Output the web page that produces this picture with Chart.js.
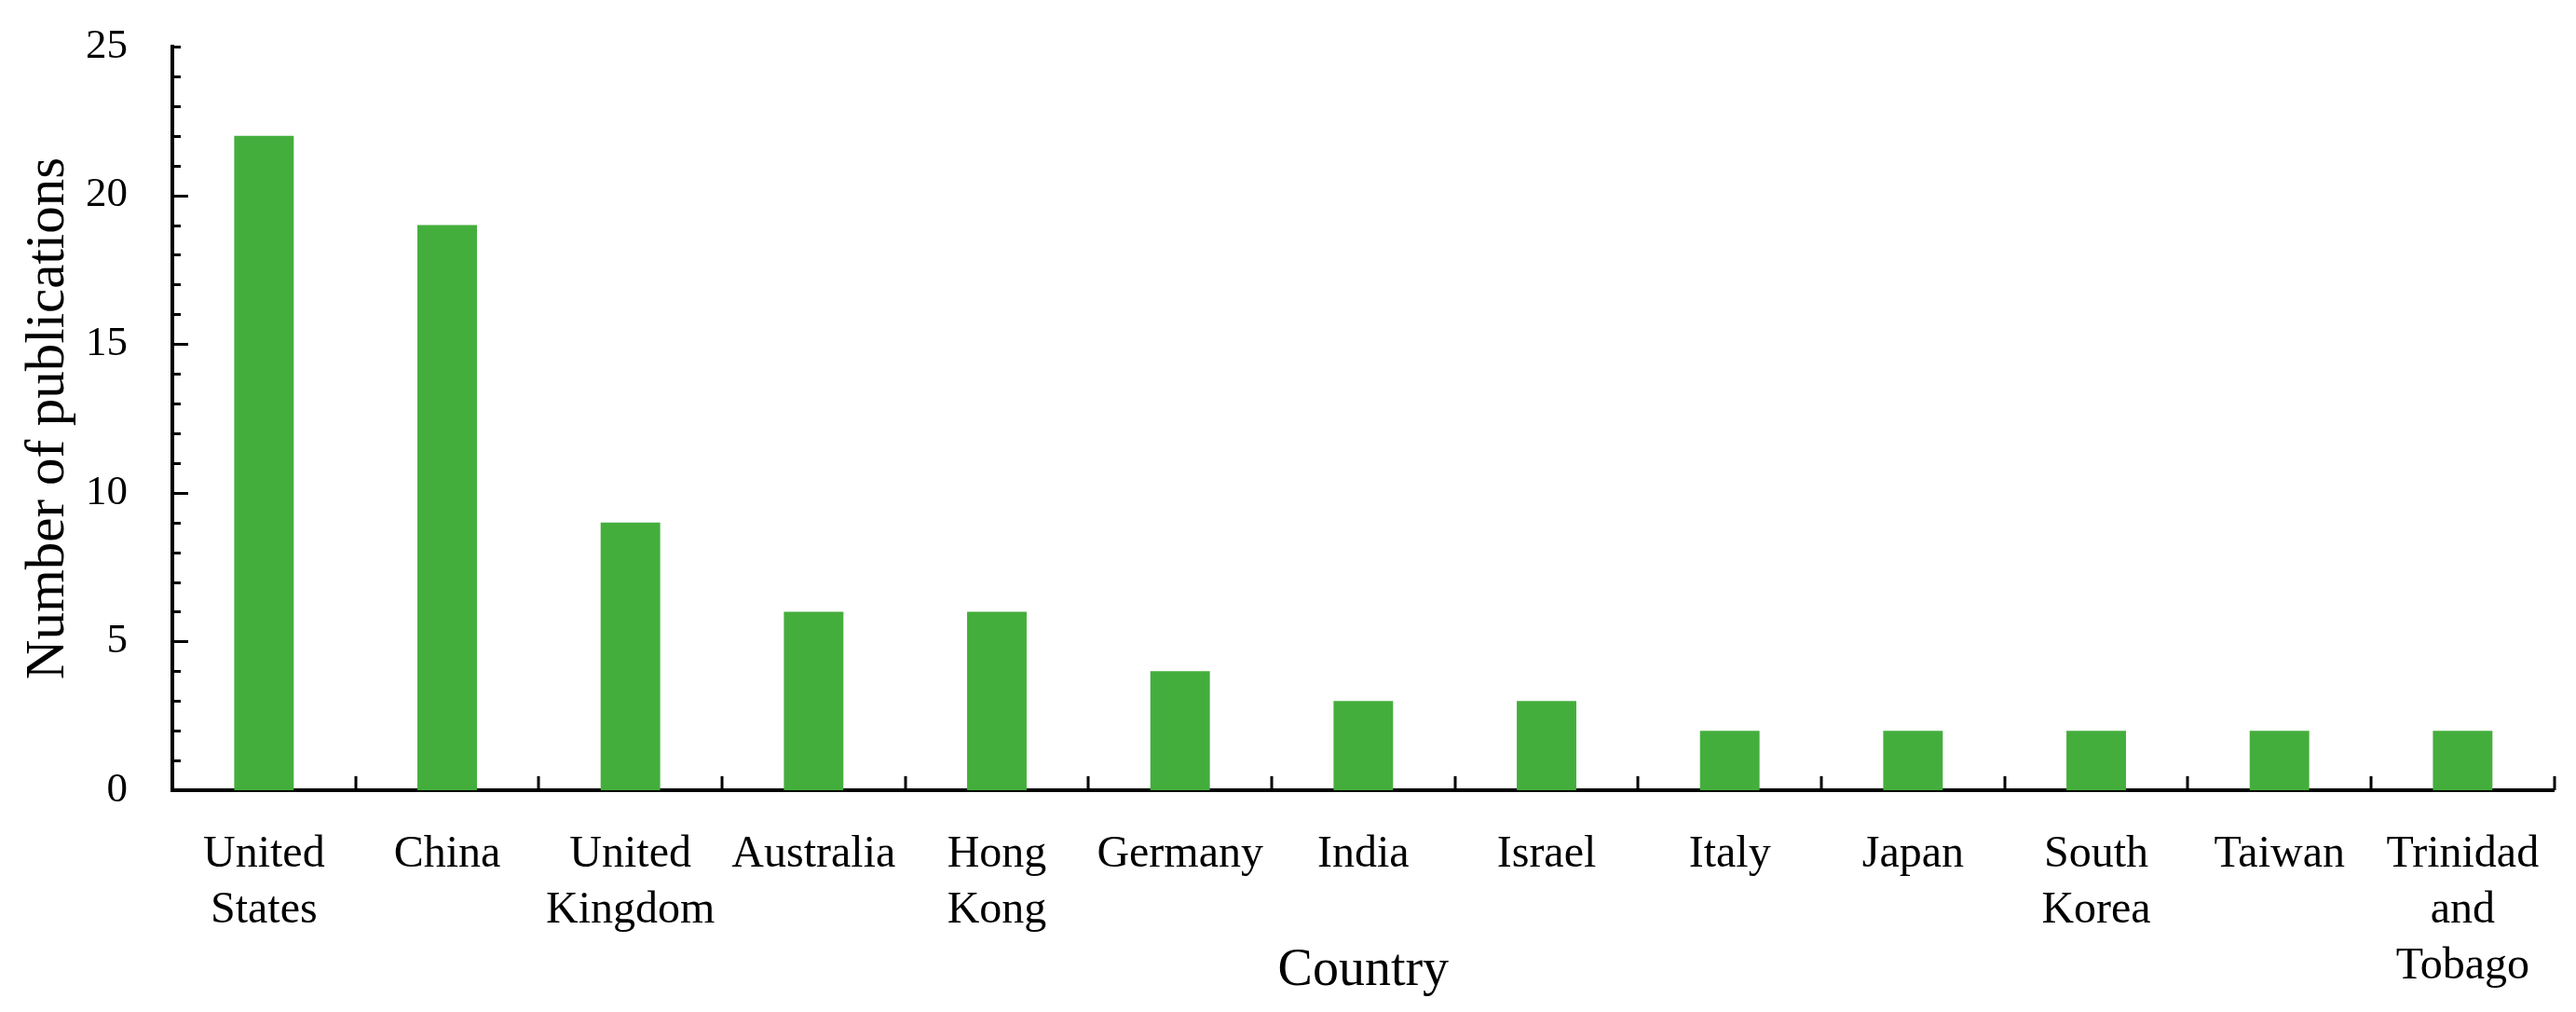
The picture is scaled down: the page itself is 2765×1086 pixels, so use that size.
<!DOCTYPE html>
<html>
<head>
<meta charset="utf-8">
<title>Number of publications by country</title>
<script src="https://cdn.jsdelivr.net/npm/chart.js@4/dist/chart.umd.min.js"></script>
<style>
  html, body { margin: 0; padding: 0; background: #fff; }
  #wrap { width: 2765px; height: 1086px; position: relative; }
</style>
</head>
<body>
<div id="wrap"><canvas id="chart"></canvas></div>
<script>
const countries = [
  ["United", "States"], "China", ["United", "Kingdom"], "Australia", ["Hong", "Kong"],
  "Germany", "India", "Israel", "Italy", "Japan", ["South", "Korea"], "Taiwan",
  ["Trinidad", "and", "Tobago"],
];
const publications = [22, 19, 9, 6, 6, 4, 3, 3, 2, 2, 2, 2, 2];
const yTicks = [0, 5, 10, 15, 20, 25];

const FONT = "'Liberation Serif', 'Times New Roman', serif";
const BAR = "#44ae3c";

// ticks in this figure point inward, Chart.js only draws them outward
const inwardTicks = {
  id: "inwardTicks",
  afterDraw(chart) {
    const { ctx, chartArea: area, scales: { x, y } } = chart;
    ctx.save();
    ctx.strokeStyle = "#000";
    ctx.lineWidth = 3;
    ctx.beginPath();
    for (let v = 0; v <= 25; v++) {
      const py = Math.round(y.getPixelForValue(v)) + 0.5;
      const len = v % 5 === 0 && v !== 25 && v !== 0 ? 17 : 9;
      ctx.moveTo(area.left, py);
      ctx.lineTo(area.left + len, py);
    }
    for (let i = 1; i <= countries.length; i++) {
      const px = Math.round(x.getPixelForValue(i - 0.5));
      ctx.moveTo(px, area.bottom);
      ctx.lineTo(px, area.bottom - 15);
    }
    ctx.stroke();
    ctx.restore();
  },
};

new Chart(document.getElementById("chart"), {
  type: "bar",
  data: {
    labels: countries,
    datasets: [{
      data: publications,
      backgroundColor: BAR,
      borderWidth: 0,
      categoryPercentage: 1,
      barPercentage: 0.325,
    }],
  },
  options: {
    responsive: true,
    maintainAspectRatio: false,
    animation: false,
    layout: { autoPadding: false, padding: { top: 50, right: 22, left: 0, bottom: 0 } },
    plugins: { legend: { display: false }, tooltip: { enabled: false } },
    scales: {
      x: {
        offset: true,
        grid: { display: false, drawTicks: false },
        border: { display: true, color: "#000", width: 4 },
        ticks: {
          color: "#000",
          font: { family: FONT, size: 48, lineHeight: 1.25 },
          padding: 39,
          maxRotation: 0,
          autoSkip: false,
        },
        title: {
          display: true,
          text: "Country",
          color: "#000",
          font: { family: FONT, size: 56 },
          padding: { top: 0, bottom: 10 },
        },
        afterFit(scale) { scale.height = 238; },
      },
      y: {
        min: 0,
        max: 25,
        afterBuildTicks(scale) { scale.ticks = yTicks.map((value) => ({ value })); },
        grid: { display: false, drawTicks: false },
        border: { display: true, color: "#000", width: 4 },
        ticks: {
          color: "#000",
          font: { family: FONT, size: 45 },
          padding: 48,
        },
        title: {
          display: true,
          text: "Number of publications",
          color: "#000",
          font: { family: FONT, size: 59 },
          padding: { top: 17, bottom: 0 },
        },
        afterFit(scale) {
          scale.width = 185;
          scale.paddingTop = 0;
          scale.paddingBottom = 0;
        },
      },
    },
  },
  plugins: [inwardTicks],
});
</script>
</body>
</html>
